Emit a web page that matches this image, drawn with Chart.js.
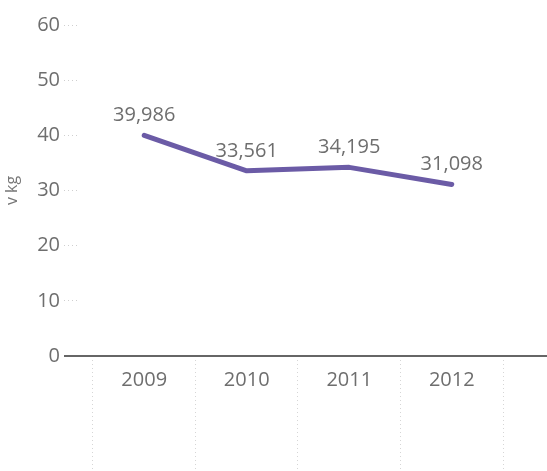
<!DOCTYPE html>
<html>
<head>
<meta charset="utf-8">
<script src="https://cdn.jsdelivr.net/npm/chart.js@4/dist/chart.umd.min.js"></script>
<style>
  html, body { margin: 0; padding: 0; background: #fff; }
  #wrap { width: 547px; height: 471px; }
</style>
</head>
<body>
<div id="wrap"><canvas id="kgChart" width="547" height="471"></canvas></div>
<script>
const years = [2009, 2010, 2011, 2012];
const kgValues = [39.986, 33.561, 34.195, 31.098];
const yTicks = [0, 10, 20, 30, 40, 50, 60];

const textColor = '#6e6e6e';
const fontFamily = '"Open Sans", "Noto Sans", sans-serif';

// czech number format, comma as decimal separator
function fmt(v) {
    return v.toFixed(3).replace('.', ',');
}

// value labels above each point
const valueLabels = {
    id: 'valueLabels',
    afterDatasetsDraw(chart) {
        const ctx = chart.ctx;
        const meta = chart.getDatasetMeta(0);
        ctx.save();
        ctx.font = '20px ' + fontFamily;
        ctx.fillStyle = textColor;
        ctx.textAlign = 'center';
        ctx.textBaseline = 'middle';
        meta.data.forEach((pt, i) => {
            ctx.fillText(fmt(kgValues[i]), pt.x, pt.y - 20);
        });
        ctx.restore();
    }
};

const isZero = c => c.tick && c.tick.value === 0;

new Chart(document.getElementById('kgChart'), {
    type: 'line',
    data: {
        datasets: [{
            data: years.map((y, i) => ({ x: y, y: kgValues[i] })),
            borderColor: '#6b5ba6',
            borderWidth: 5,
            borderCapStyle: 'round',
            borderJoinStyle: 'round',
            pointRadius: 0,
            tension: 0,
            fill: false
        }]
    },
    options: {
        responsive: false,
        animation: false,
        devicePixelRatio: 1,
        layout: { padding: { top: 25, right: 0, bottom: 0, left: 0 } },
        plugins: {
            legend: { display: false },
            tooltip: { enabled: false }
        },
        scales: {
            x: {
                type: 'linear',
                min: 2008.354,
                max: 2012.929,
                afterBuildTicks: scale => {
                    scale.ticks = years.map(v => ({ value: v }));
                },
                afterFit: scale => { scale.height = 115; },
                border: { display: false },
                grid: {
                    offset: true,
                    drawOnChartArea: false,
                    drawTicks: true,
                    tickLength: 115,
                    tickColor: '#d6d6d6',
                    tickWidth: 1,
                    tickBorderDash: [1, 3]
                },
                ticks: {
                    padding: -103,
                    color: textColor,
                    font: { family: fontFamily, size: 20 },
                    callback: v => String(v)
                }
            },
            y: {
                min: 0,
                max: 60,
                afterBuildTicks: scale => {
                    scale.ticks = yTicks.map(v => ({ value: v }));
                },
                afterFit: scale => { scale.width = 78; },
                border: { display: false },
                grid: {
                    drawOnChartArea: true,
                    drawTicks: true,
                    tickLength: 14,
                    color: c => isZero(c) ? '#666666' : 'rgba(0,0,0,0)',
                    lineWidth: c => isZero(c) ? 2 : 1,
                    tickColor: c => isZero(c) ? '#666666' : '#cfcfcf',
                    tickWidth: c => isZero(c) ? 2 : 1,
                    tickBorderDash: c => isZero(c) ? [] : [1, 3]
                },
                ticks: {
                    padding: 4,
                    color: textColor,
                    font: { family: fontFamily, size: 20 }
                },
                title: {
                    display: true,
                    text: 'v kg',
                    color: '#777777',
                    font: { family: fontFamily, size: 16 },
                    padding: { top: 3, bottom: 0 }
                }
            }
        }
    },
    plugins: [valueLabels]
});
</script>
</body>
</html>
